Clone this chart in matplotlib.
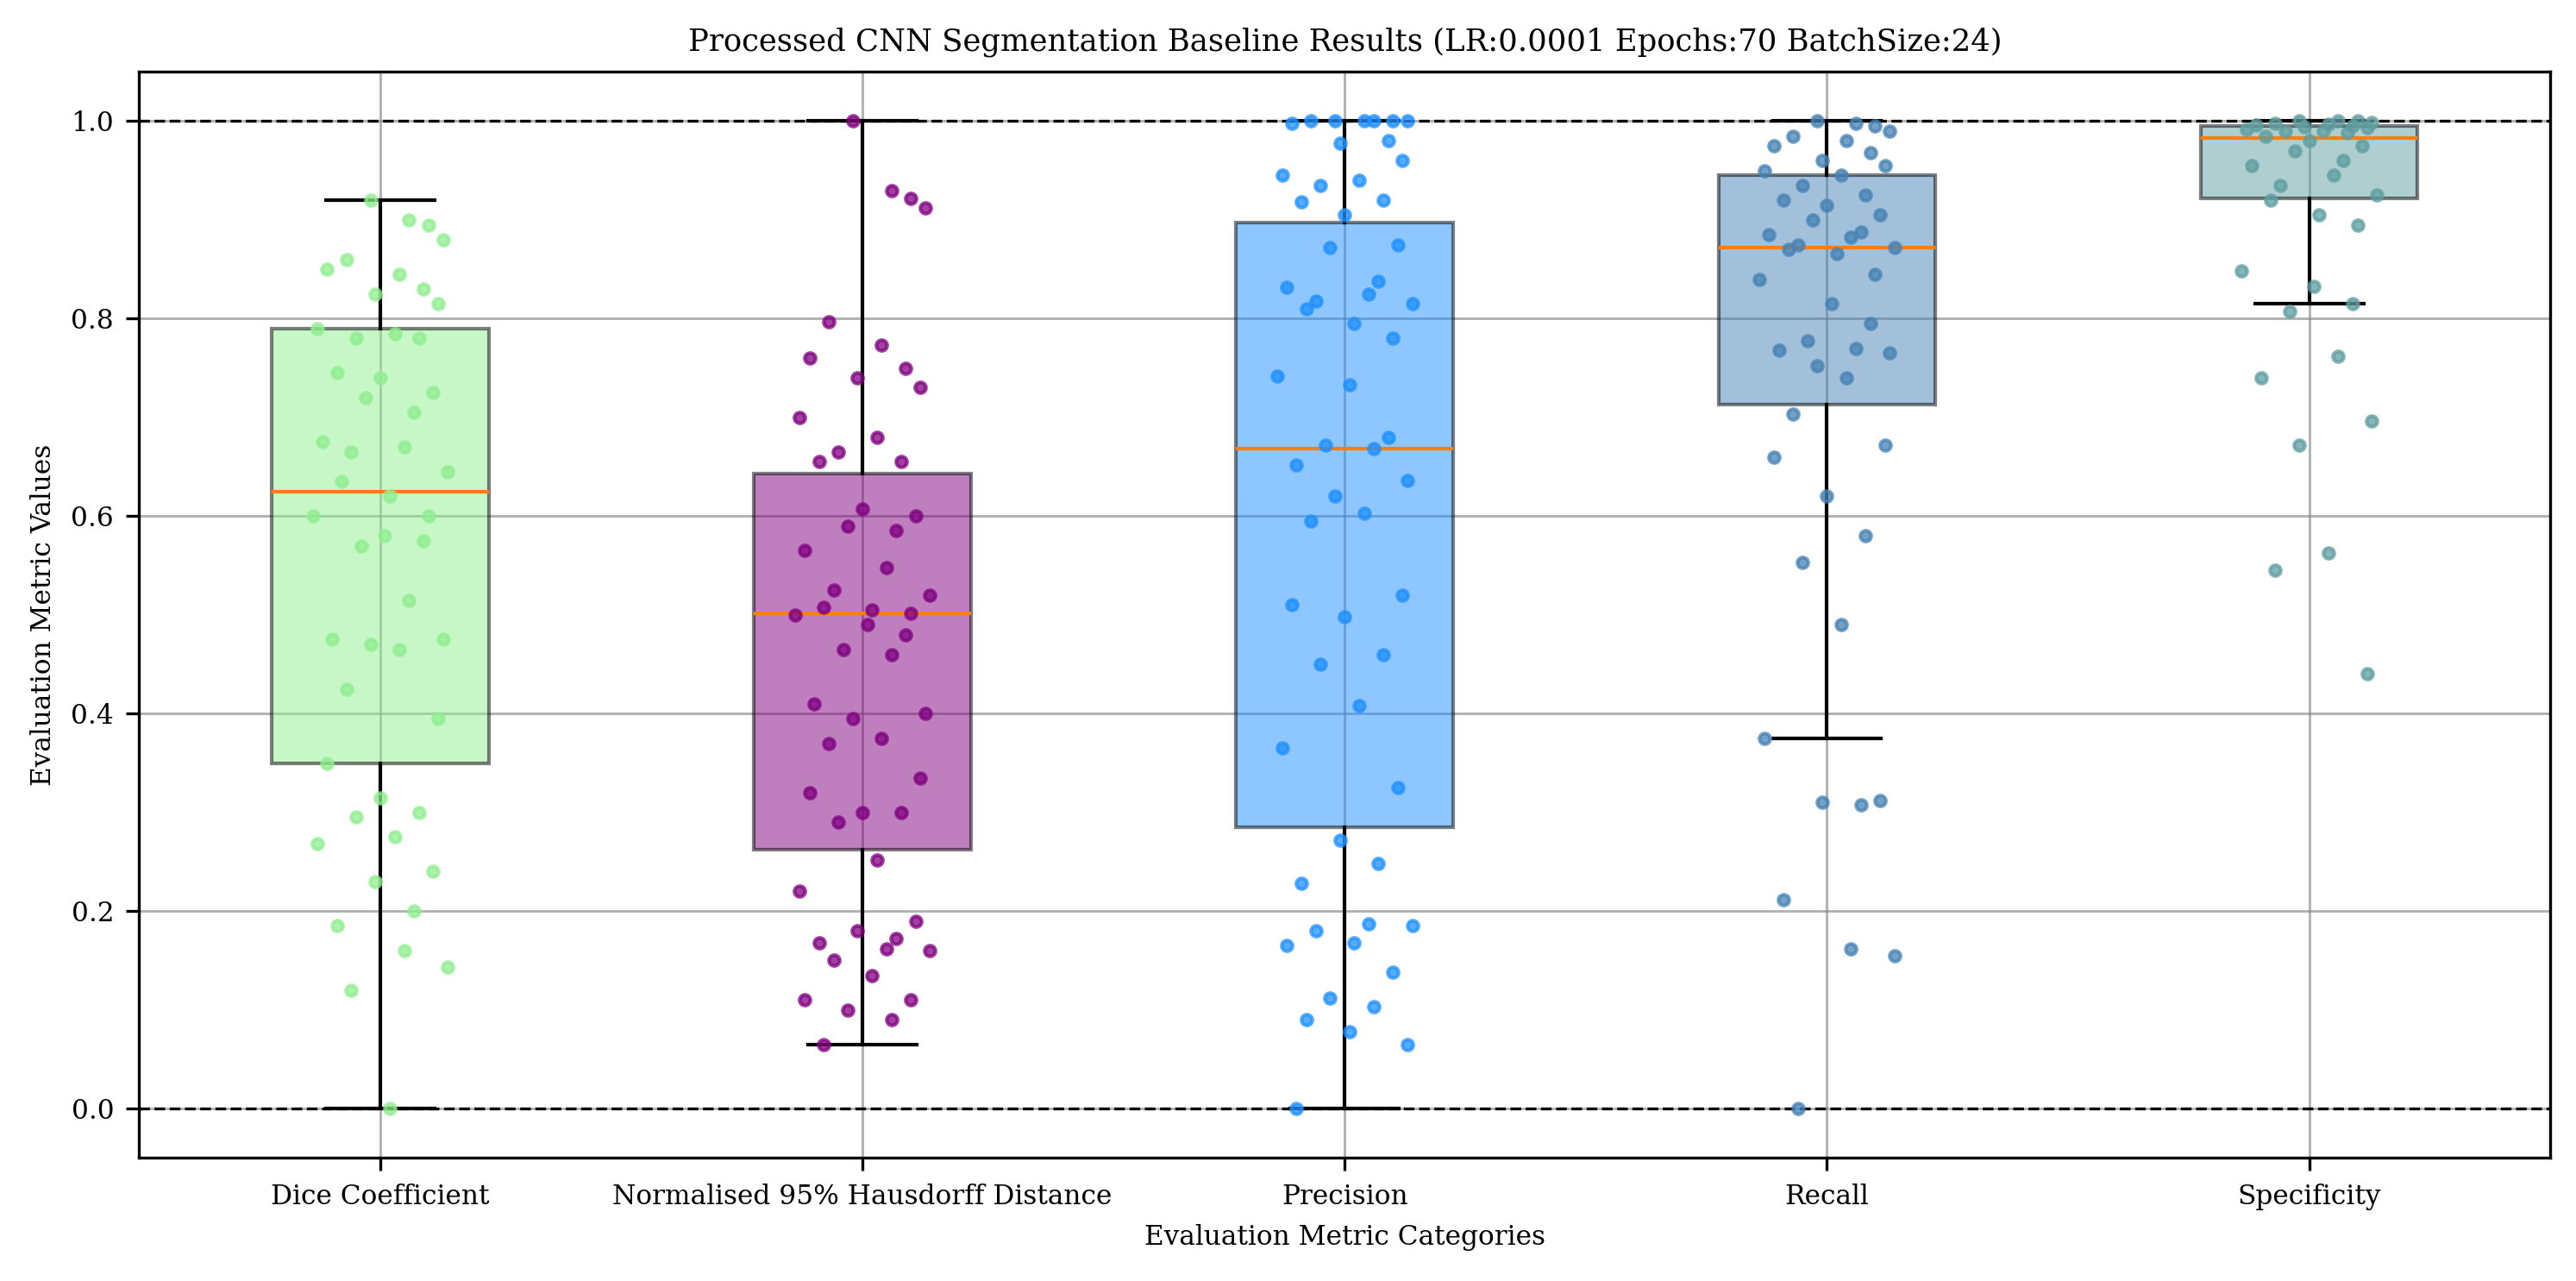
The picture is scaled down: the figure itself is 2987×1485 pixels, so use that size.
import matplotlib
matplotlib.use("Agg")
import matplotlib.pyplot as plt

plt.rcParams['font.family'] = ['DejaVu Serif']

categories = ["Dice Coefficient", "Normalised 95% Hausdorff Distance", "Precision", "Recall", "Specificity"]
colors = ["lightgreen", "purple", "dodgerblue", "steelblue", "cadetblue"]

q1 = [0.35, 0.262, 0.285, 0.713, 0.922]
med = [0.625, 0.502, 0.668, 0.872, 0.983]
q3 = [0.79, 0.643, 0.897, 0.945, 0.995]
whislo = [0.0, 0.065, 0.0, 0.375, 0.815]
whishi = [0.92, 1.0, 1.0, 1.0, 1.0]

dice = [0.92, 0.90, 0.895, 0.88, 0.86, 0.845, 0.85, 0.83, 0.825, 0.815, 0.79, 0.785, 0.78, 0.78, 0.745,
        0.74, 0.725, 0.72, 0.705, 0.675, 0.67, 0.665, 0.645, 0.635, 0.62, 0.60, 0.60, 0.58, 0.575, 0.57,
        0.515, 0.475, 0.475, 0.47, 0.465, 0.425, 0.395, 0.35, 0.315, 0.30, 0.295, 0.275, 0.268, 0.24,
        0.23, 0.20, 0.185, 0.16, 0.143, 0.12, 0.0]
hd95 = [1.0, 0.93, 0.922, 0.912, 0.797, 0.773, 0.76, 0.75, 0.74, 0.73, 0.70, 0.68, 0.665, 0.655, 0.655,
        0.607, 0.60, 0.59, 0.585, 0.565, 0.548, 0.525, 0.52, 0.508, 0.505, 0.502, 0.50, 0.49, 0.48, 0.465,
        0.46, 0.41, 0.40, 0.395, 0.375, 0.37, 0.335, 0.32, 0.30, 0.30, 0.29, 0.252, 0.22, 0.19, 0.18,
        0.172, 0.168, 0.162, 0.16, 0.15, 0.135, 0.11, 0.11, 0.10, 0.09, 0.065]
precision = [1.0, 1.0, 1.0, 1.0, 1.0, 1.0, 0.998, 0.98, 0.978, 0.96, 0.945, 0.94, 0.935, 0.92, 0.918,
             0.905, 0.875, 0.872, 0.838, 0.832, 0.825, 0.818, 0.815, 0.81, 0.795, 0.78, 0.742, 0.733,
             0.68, 0.672, 0.668, 0.652, 0.636, 0.62, 0.603, 0.595, 0.52, 0.51, 0.498, 0.46, 0.45, 0.408,
             0.365, 0.325, 0.272, 0.248, 0.228, 0.187, 0.185, 0.18, 0.168, 0.165, 0.138, 0.112, 0.103,
             0.09, 0.078, 0.065, 0.0]
recall = [1.0, 0.998, 0.995, 0.99, 0.985, 0.98, 0.975, 0.968, 0.96, 0.955, 0.95, 0.945, 0.935, 0.925,
          0.92, 0.915, 0.905, 0.9, 0.888, 0.885, 0.882, 0.875, 0.872, 0.87, 0.866, 0.845, 0.84, 0.815,
          0.795, 0.778, 0.77, 0.768, 0.765, 0.752, 0.74, 0.703, 0.672, 0.66, 0.62, 0.58, 0.553, 0.49,
          0.375, 0.312, 0.31, 0.308, 0.212, 0.162, 0.155, 0.0]
specificity = [1.0, 1.0, 1.0, 0.999, 0.998, 0.997, 0.996, 0.995, 0.994, 0.993, 0.992, 0.99, 0.99, 0.988,
               0.985, 0.98, 0.975, 0.97, 0.96, 0.955, 0.945, 0.935, 0.925, 0.92, 0.905, 0.895, 0.848,
               0.833, 0.815, 0.807, 0.762, 0.74, 0.696, 0.672, 0.563, 0.545, 0.44]
series = [dice, hd95, precision, recall, specificity]

jitter = [-0.02, 0.06, 0.1, 0.13, -0.07, 0.04, -0.11, 0.09, -0.01, 0.12, -0.13, 0.03, -0.05, 0.08,
          -0.09, 0.0, 0.11, -0.03, 0.07, -0.12, 0.05, -0.06, 0.14, -0.08, 0.02, 0.1, -0.14, 0.01,
          0.09, -0.04, 0.06, -0.1, 0.13, -0.02, 0.04, -0.07, 0.12, -0.11, 0.0, 0.08, -0.05, 0.03,
          -0.13, 0.11, -0.01, 0.07, -0.09, 0.05, 0.14, -0.06, 0.02, -0.12, 0.1, -0.03, 0.06, -0.08,
          0.01, 0.13, -0.1, 0.04]

fig = plt.figure(figsize=(9.957, 4.95), dpi=300)
ax = fig.add_axes([0.054, 0.096, 0.936, 0.848])

stats = []
for i in range(5):
    stats.append(dict(q1=q1[i], med=med[i], q3=q3[i], whislo=whislo[i], whishi=whishi[i], fliers=[]))
bp = ax.bxp(stats, positions=range(1, 6), widths=0.45, patch_artist=True, showfliers=False)
for patch, c in zip(bp['boxes'], colors):
    patch.set_facecolor(c)
    patch.set_alpha(0.5)
    patch.set_edgecolor('black')
for m in bp['medians']:
    m.set_color('tab:orange')

for i, vals in enumerate(series):
    xs = [i + 1 + jitter[k % len(jitter)] for k in range(len(vals))]
    ax.scatter(xs, vals, s=9, color=colors[i], alpha=0.75, zorder=3)

ax.axhline(0, color='black', ls='--', lw=0.8)
ax.axhline(1, color='black', ls='--', lw=0.8)
ax.set_ylim(-0.05, 1.05)
ax.set_xlim(0.5, 5.5)
ax.set_xticks(range(1, 6))
ax.set_xticklabels(categories, fontsize=7.5)
ax.tick_params(axis='y', labelsize=7.5)
ax.grid(True, color='gray', alpha=0.6, lw=0.7)
ax.set_axisbelow(True)
ax.set_xlabel("Evaluation Metric Categories", fontsize=7.5)
ax.set_ylabel("Evaluation Metric Values", fontsize=7.5)
ax.set_title("Processed CNN Segmentation Baseline Results (LR:0.0001 Epochs:70 BatchSize:24)", fontsize=8.5)

fig.savefig("out.png", dpi=300)
